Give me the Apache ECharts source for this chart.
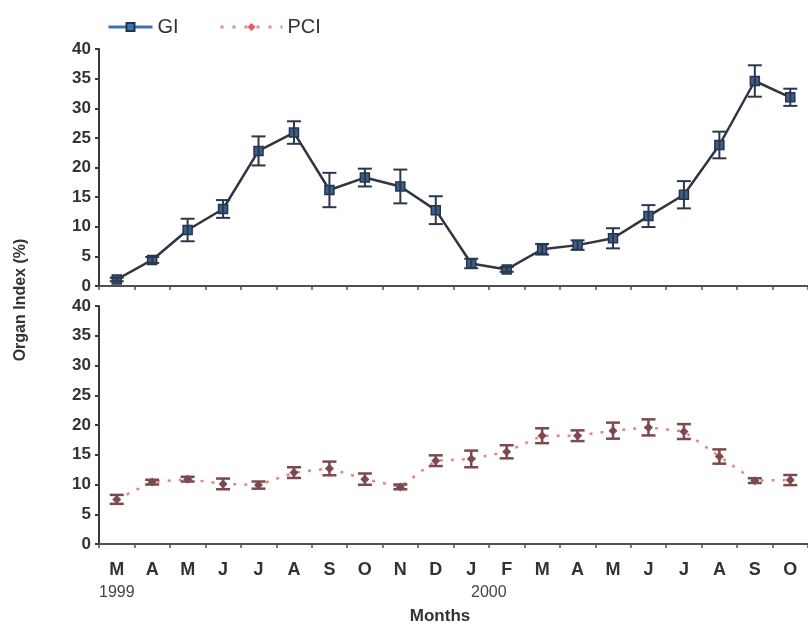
<!DOCTYPE html>
<html>
<head>
<meta charset="utf-8">
<script src="https://cdn.jsdelivr.net/npm/echarts@6/dist/echarts.min.js"></script>
<style>
  html, body { margin: 0; padding: 0; background: #ffffff; }
  #chart { width: 808px; height: 624px; }
</style>
</head>
<body>
<div id="chart"></div>
<script>
// Monthly samples, March 1999 – October 2000
const months = ['M', 'A', 'M', 'J', 'J', 'A', 'S', 'O', 'N', 'D', 'J', 'F', 'M', 'A', 'M', 'J', 'J', 'A', 'S', 'O'];
const yTicks = [0, 5, 10, 15, 20, 25, 30, 35, 40];

// Gonad index (GI) mean and standard error
const giMean = [1.1, 4.4, 9.45, 13.0, 22.8, 25.9, 16.2, 18.3, 16.8, 12.8, 3.8, 2.8, 6.2, 6.9, 8.05, 11.8, 15.4, 23.8, 34.6, 31.85];
const giErr  = [0.3, 0.5, 1.9, 1.5, 2.45, 1.9, 2.9, 1.5, 2.85, 2.35, 0.8, 0.4, 0.9, 0.8, 1.7, 1.85, 2.3, 2.25, 2.65, 1.45];

// Pyloric caeca index (PCI) mean and standard error
const pciMean = [7.5, 10.4, 10.9, 10.1, 9.9, 12.0, 12.7, 10.9, 9.6, 14.0, 14.3, 15.5, 18.2, 18.2, 19.05, 19.6, 18.9, 14.7, 10.65, 10.75];
const pciErr  = [0.75, 0.4, 0.4, 0.9, 0.6, 0.9, 1.15, 0.95, 0.4, 0.9, 1.4, 1.1, 1.25, 0.9, 1.35, 1.35, 1.25, 1.2, 0.4, 0.85];

const yearLabels = [{ text: '1999', at: 0 }, { text: '2000', at: 10.45 }];

const FONT = '"Liberation Sans", Arial, sans-serif';
const TEXT = '#333333';
const GRID_LEFT = 99, GRID_WIDTH = 712;
const STEP = GRID_WIDTH / months.length;

function errorBars(mean, err, color, lw, capHalf) {
  return function (params, api) {
    const i = api.value(0);
    const lo = api.coord([i, mean[i] - err[i]]);
    const hi = api.coord([i, mean[i] + err[i]]);
    const style = { stroke: color, lineWidth: lw };
    return {
      type: 'group',
      children: [
        { type: 'line', shape: { x1: lo[0], y1: lo[1], x2: hi[0], y2: hi[1] }, style },
        { type: 'line', shape: { x1: lo[0] - capHalf, y1: lo[1], x2: lo[0] + capHalf, y2: lo[1] }, style },
        { type: 'line', shape: { x1: hi[0] - capHalf, y1: hi[1], x2: hi[0] + capHalf, y2: hi[1] }, style }
      ]
    };
  };
}

const chart = echarts.init(document.getElementById('chart'), null, { renderer: 'canvas' });

const yAxisBase = {
  type: 'value', min: yTicks[0], max: yTicks[yTicks.length - 1], interval: 5,
  splitLine: { show: false },
  axisLine: { show: true, lineStyle: { color: '#3a3a3a', width: 2 } },
  axisTick: { show: true, length: 4, lineStyle: { color: '#3a3a3a', width: 2 } },
  axisLabel: { color: TEXT, fontSize: 17, fontWeight: 'bold', fontFamily: FONT, margin: 8 }
};
const xAxisBase = {
  type: 'category', data: months, boundaryGap: true,
  axisLine: { show: true, lineStyle: { color: '#505050', width: 2 } },
  axisTick: { show: true, length: 4, lineStyle: { color: '#505050', width: 1.5 } }
};
const legendText = { color: TEXT, fontSize: 20, fontFamily: FONT };

chart.setOption({
  animation: false,
  backgroundColor: '#ffffff',
  legend: [
    {
      left: 102, top: 12, itemWidth: 44, itemHeight: 10, textStyle: legendText,
      data: [{ name: 'GI', itemStyle: { color: '#3a74b4' }, lineStyle: { color: '#3a74b4', width: 3 } }]
    },
    {
      left: 214, top: 12, itemWidth: 62, itemHeight: 10, textStyle: legendText,
      data: [{ name: 'PCI', itemStyle: { color: '#e65a66' }, lineStyle: { color: '#dd8a95', width: 3, type: [3, 9] } }]
    }
  ],
  grid: [
    { left: GRID_LEFT, top: 49, width: GRID_WIDTH, height: 237 },
    { left: GRID_LEFT, top: 306, width: GRID_WIDTH, height: 238 }
  ],
  xAxis: [
    Object.assign({}, xAxisBase, { gridIndex: 0, axisLabel: { show: false } }),
    Object.assign({}, xAxisBase, {
      gridIndex: 1,
      axisLabel: { color: TEXT, fontSize: 18, fontWeight: 'bold', fontFamily: FONT, margin: 17 }
    })
  ],
  yAxis: [
    Object.assign({}, yAxisBase, { gridIndex: 0 }),
    Object.assign({}, yAxisBase, { gridIndex: 1 })
  ],
  graphic: [
    {
      type: 'text', x: 21, y: 300, rotation: Math.PI / 2,
      style: { text: 'Organ Index (%)', fill: TEXT, font: 'bold 16px ' + FONT, align: 'center', verticalAlign: 'middle' }
    },
    {
      type: 'text', x: 440, y: 616,
      style: { text: 'Months', fill: TEXT, font: 'bold 17px ' + FONT, align: 'center', verticalAlign: 'middle' }
    },
    ...yearLabels.map(function (y) {
      return {
        type: 'text', x: GRID_LEFT + (y.at + 0.5) * STEP, y: 593,
        style: { text: y.text, fill: '#444', font: '16px ' + FONT, align: 'center', verticalAlign: 'middle' }
      };
    })
  ],
  series: [
    {
      name: 'GI', type: 'line', xAxisIndex: 0, yAxisIndex: 0, data: giMean,
      symbol: 'rect', symbolSize: 9, z: 3,
      itemStyle: { color: '#3d5f8c', borderColor: '#25344a', borderWidth: 1.5 },
      lineStyle: { color: '#2f3541', width: 2.5 }
    },
    {
      name: 'GI err', type: 'custom', xAxisIndex: 0, yAxisIndex: 0, z: 4,
      data: giMean.map(function (v, i) { return [i, v]; }),
      renderItem: errorBars(giMean, giErr, '#2b384b', 2, 7)
    },
    {
      name: 'PCI', type: 'line', xAxisIndex: 1, yAxisIndex: 1, data: pciMean,
      symbol: 'diamond', symbolSize: 9, z: 3,
      itemStyle: { color: '#7c4a4e' },
      lineStyle: { color: '#e38490', width: 2.5, type: [3, 8] }
    },
    {
      name: 'PCI err', type: 'custom', xAxisIndex: 1, yAxisIndex: 1, z: 4,
      data: pciMean.map(function (v, i) { return [i, v]; }),
      renderItem: errorBars(pciMean, pciErr, '#7c4a4e', 2.5, 7)
    }
  ]
});
</script>
</body>
</html>
